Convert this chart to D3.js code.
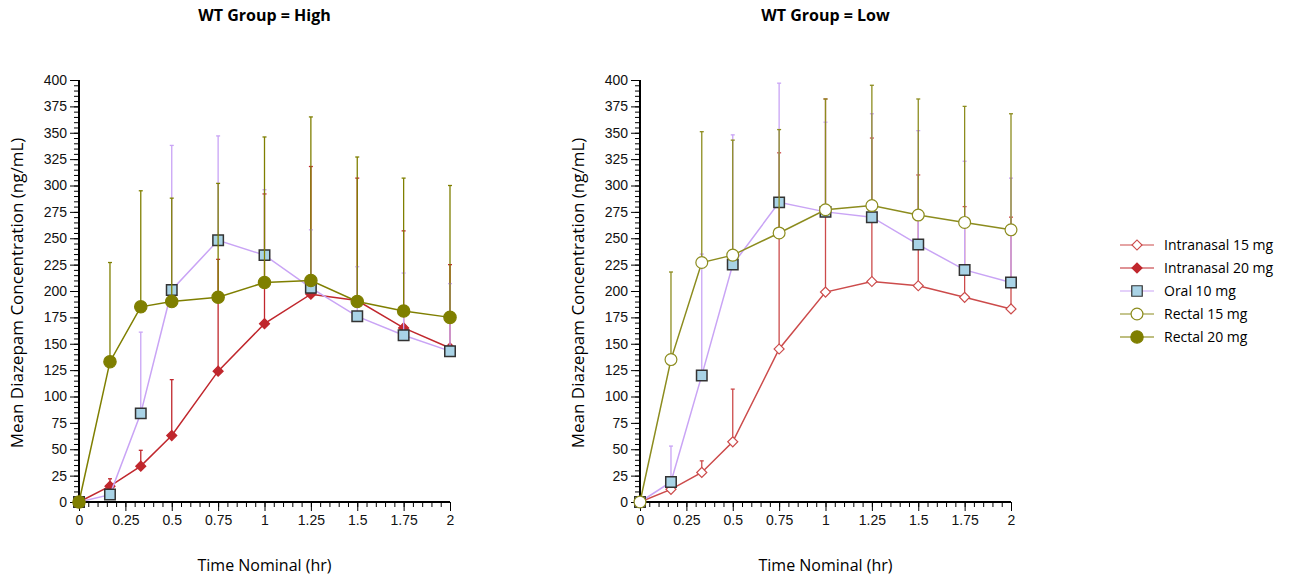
<!DOCTYPE html>
<html>
<head>
<meta charset="utf-8">
<script src="https://cdn.jsdelivr.net/npm/d3@7"></script>
<style>
  body { margin: 0; background: #fff; }
  svg { font-family: "Open Sans", sans-serif; }
  .tick text { font-size: 14px; fill: #111; }
</style>
</head>
<body>
<svg id="chart" width="1291" height="579"></svg>
<script>
// time points (hr)
const times = [0, 0.167, 0.333, 0.5, 0.75, 1, 1.25, 1.5, 1.75, 2]
const xTickVals = [0, 0.25, 0.5, 0.75, 1, 1.25, 1.5, 1.75, 2]
const xTickLabels = ['0', '0.25', '0.5', '0.75', '1', '1.25', '1.5', '1.75', '2']
const yTickVals = [0, 25, 50, 75, 100, 125, 150, 175, 200, 225, 250, 275, 300, 325, 350, 375, 400]

// WT Group = High
const highIn20Mean  = [0, 15, 34, 63, 124, 169, 197, 191, 165, 146]
const highIn20Upper = [0, 22, 49, 116, 230, 292, 318, 307, 257, 225]
const highOralMean  = [0, 7, 84, 201, 248, 234, 203, 176, 158, 143]
const highOralUpper = [0, 10, 161, 338, 347, 296, 258, 223, 217, 207]
const highRec20Mean  = [0, 133, 185, 190, 194, 208, 210, 190, 181, 175]
const highRec20Upper = [0, 227, 295, 288, 302, 346, 365, 327, 307, 300]

// WT Group = Low
const lowIn15Mean  = [0, 12, 28, 57, 145, 199, 209, 205, 194, 183]
const lowIn15Upper = [0, 17, 39, 107, 331, 382, 345, 310, 280, 270]
const lowOralMean  = [0, 19, 120, 225, 284, 275, 270, 244, 220, 208]
const lowOralUpper = [0, 53, 235, 348, 397, 360, 368, 352, 323, 307]
const lowRec15Mean  = [0, 135, 227, 234, 255, 277, 281, 272, 265, 258]
const lowRec15Upper = [0, 218, 351, 343, 353, 382, 395, 382, 375, 368]

const legendNames = ['Intranasal 15 mg', 'Intranasal 20 mg', 'Oral 10 mg', 'Rectal 15 mg', 'Rectal 20 mg']

let styles = {
  'Intranasal 15 mg': { line: '#cc4b4b', shape: 'diamond', fill: '#fff', stroke: '#cc4b4b', size: 50 },
  'Intranasal 20 mg': { line: '#c0272d', shape: 'diamond', fill: '#c0272d', stroke: '#c0272d', size: 50 },
  'Oral 10 mg':       { line: '#c9a4f5', shape: 'square', fill: '#a9d3e6', stroke: '#333', size: 110 },
  'Rectal 15 mg':     { line: '#8c8c1e', shape: 'circle', fill: '#fff', stroke: '#8c8c1e', size: 110 },
  'Rectal 20 mg':     { line: '#7f7f00', shape: 'circle', fill: '#7f7f00', stroke: '#7f7f00', size: 120 }
}

let panels = [
  { title: 'WT Group = High', left: 79, series: [
      { name: 'Intranasal 20 mg', mean: highIn20Mean, upper: highIn20Upper },
      { name: 'Oral 10 mg', mean: highOralMean, upper: highOralUpper },
      { name: 'Rectal 20 mg', mean: highRec20Mean, upper: highRec20Upper } ] },
  { title: 'WT Group = Low', left: 640, series: [
      { name: 'Intranasal 15 mg', mean: lowIn15Mean, upper: lowIn15Upper },
      { name: 'Oral 10 mg', mean: lowOralMean, upper: lowOralUpper },
      { name: 'Rectal 15 mg', mean: lowRec15Mean, upper: lowRec15Upper } ] }
]

let svg = d3.select('#chart')
let plotTop = 80, plotBottom = 502, plotW = 371

// diamonds are squares turned 45 degrees
function symbolFor(st) {
  let type = st.shape == 'circle' ? d3.symbolCircle : d3.symbolSquare
  return d3.symbol().type(type).size(st.size)
}
function rot(st) { return st.shape == 'diamond' ? ' rotate(45)' : '' }

panels.forEach(p => {
  let g = svg.append('g')
  let x = d3.scaleLinear().domain([0, 2]).range([p.left, p.left + plotW])
  let y = d3.scaleLinear().domain([0, 400]).range([plotBottom, plotTop])

  // minor ticks
  let xMinor = d3.axisBottom(x).tickValues(d3.range(0, 2.001, 0.05)).tickSize(5).tickFormat('')
  let yMinor = d3.axisLeft(y).tickValues(d3.range(0, 401, 5)).tickSize(5).tickFormat('')
  g.append('g').attr('transform', `translate(0,${plotBottom})`).call(xMinor).call(a => a.select('.domain').remove())
  g.append('g').attr('transform', `translate(${p.left},0)`).call(yMinor).call(a => a.select('.domain').remove())

  let xAxis = d3.axisBottom(x).tickValues(xTickVals).tickSize(9).tickPadding(4)
    .tickFormat((d, i) => xTickLabels[i])
  let yAxis = d3.axisLeft(y).tickValues(yTickVals).tickSize(9).tickPadding(3)
  g.append('g').attr('transform', `translate(0,${plotBottom})`).call(xAxis)
    .call(a => a.select('.domain').attr('stroke-width', 2).attr('d', `M${p.left},0H${p.left + plotW}`))
  g.append('g').attr('transform', `translate(${p.left},0)`).call(yAxis)
    .call(a => a.select('.domain').attr('stroke-width', 2).attr('d', `M0,${plotBottom}V${plotTop}`))
  g.selectAll('.tick line').attr('stroke', '#000')

  // titles
  g.append('text').attr('x', p.left + plotW / 2).attr('y', 21).attr('text-anchor', 'middle')
    .attr('font-size', 16).attr('font-weight', 'bold').text(p.title)
  g.append('text').attr('x', p.left + plotW / 2).attr('y', 571).attr('text-anchor', 'middle')
    .attr('font-size', 16).text('Time Nominal (hr)')
  g.append('text').attr('transform', `translate(${p.left - 56},${(plotTop + plotBottom) / 2 + 2}) rotate(-90)`)
    .attr('text-anchor', 'middle').attr('font-size', 17).text('Mean Diazepam Concentration (ng/mL)')

  let line = d3.line().x((d, i) => x(times[i])).y(d => y(d))

  p.series.forEach(s => {
    let st = styles[s.name]
    let sg = g.append('g')
    let pts = times.map((t, i) => ({ t: t, m: s.mean[i], u: s.upper[i] })).filter(d => d.u > d.m)
    sg.selectAll('.bar').data(pts).enter().append('line')
      .attr('x1', d => x(d.t)).attr('x2', d => x(d.t))
      .attr('y1', d => y(d.m)).attr('y2', d => y(d.u))
      .attr('stroke', st.line).attr('stroke-width', 1.3)
    sg.selectAll('.cap').data(pts).enter().append('line')
      .attr('x1', d => x(d.t) - 2).attr('x2', d => x(d.t) + 2)
      .attr('y1', d => y(d.u)).attr('y2', d => y(d.u))
      .attr('stroke', st.line).attr('stroke-width', 1.3)
    sg.append('path').datum(s.mean).attr('d', line)
      .attr('fill', 'none').attr('stroke', st.line).attr('stroke-width', 1.5)
    sg.selectAll('.pt').data(s.mean).enter().append('path')
      .attr('transform', (d, i) => `translate(${x(times[i])},${y(d)})` + rot(st))
      .attr('d', symbolFor(st))
      .attr('fill', st.fill).attr('stroke', st.stroke).attr('stroke-width', st.shape == 'square' ? 1.5 : 1.2)
  })
})

// legend
let lg = svg.append('g').attr('transform', 'translate(1120,245)')
legendNames.forEach((n, i) => {
  let st = styles[n]
  let row = lg.append('g').attr('transform', `translate(0,${i * 23})`)
  row.append('line').attr('x1', 0).attr('x2', 34).attr('stroke', st.line).attr('stroke-width', 1.2)
  row.append('path').attr('transform', 'translate(17,0)' + rot(st)).attr('d', symbolFor(st))
    .attr('fill', st.fill).attr('stroke', st.stroke).attr('stroke-width', 1.2)
  row.append('text').attr('x', 44).attr('y', 5).attr('font-size', 14).text(n)
})
</script>
</body>
</html>
